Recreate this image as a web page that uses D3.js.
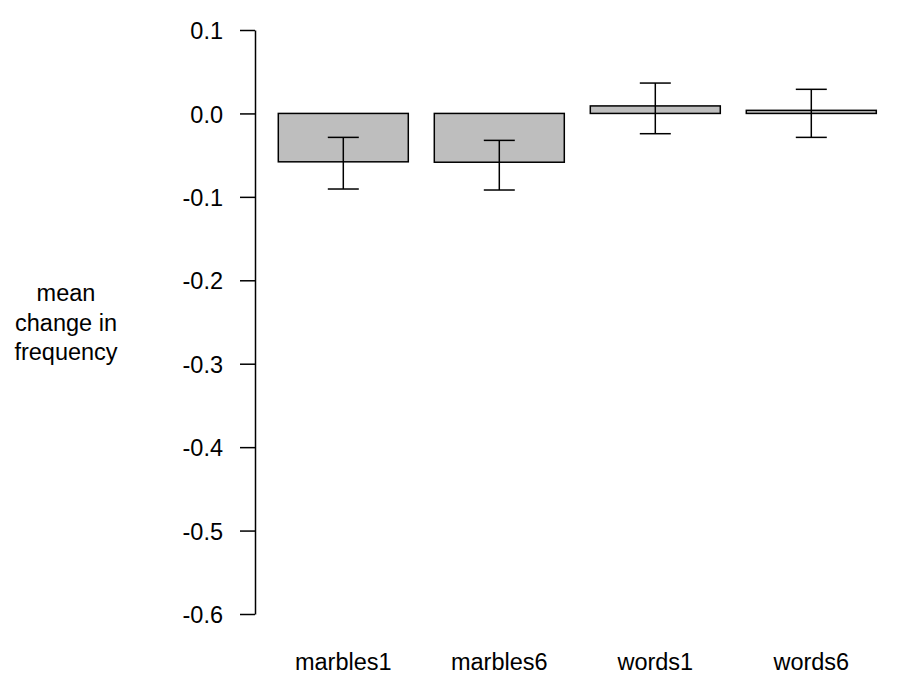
<!DOCTYPE html>
<html>
<head>
<meta charset="utf-8">
<script src="https://cdn.jsdelivr.net/npm/d3@7"></script>
<style>
  body { margin: 0; background: #fff; }
  text { font-family: "Liberation Sans", Arial, sans-serif; fill: #000; }
</style>
</head>
<body>
<svg id="chart"></svg>
<script>
// data
var groups = ["marbles1", "marbles6", "words1", "words6"];
var means = [-0.058, -0.0585, 0.009, 0.0037];
var errLow = [-0.0906, -0.0918, -0.0243, -0.0287];
var errHigh = [-0.0287, -0.0323, 0.0364, 0.0289];
var yTicks = [0.1, 0.0, -0.1, -0.2, -0.3, -0.4, -0.5, -0.6];
var yLabelLines = ["mean", "change in", "frequency"];

var width = 900, height = 675;
var fontSize = 23.5;

var svg = d3.select("#chart")
  .attr("width", width)
  .attr("height", height)

var yScale = d3.scaleLinear()
  .domain([-0.6, 0.1])
  .range([614, 30])

// barplot style: bar width 1, space 0.2
var xScale = d3.scaleBand()
  .domain(groups)
  .range([265.3, 889.3])
  .paddingInner(1/6)
  .paddingOuter(1/12)

var yAxis = d3.axisLeft(yScale)
  .tickValues(yTicks)
  .tickSize(15)
  .tickPadding(17)
  .tickSizeOuter(0)

var axisG = svg.append("g")
  .attr("transform", "translate(255,0)")
  .call(yAxis)

axisG.select(".domain")
  .attr("stroke", "#000")
  .attr("stroke-width", 1.5)
axisG.selectAll(".tick line")
  .attr("stroke", "#000")
  .attr("stroke-width", 1.5)
axisG.selectAll(".tick text")
  .attr("font-size", fontSize)
  .attr("font-family", "Liberation Sans, Arial, sans-serif")
  .attr("fill", "#000")
  .attr("dy", "0.37em")
  .text(function(d){ return d3.format(".1f")(d).replace("−", "-"); })

// bars
svg.selectAll("rect.bar")
  .data(groups)
  .enter()
  .append("rect")
  .attr("class", "bar")
  .attr("x", function(d){ return xScale(d); })
  .attr("width", xScale.bandwidth())
  .attr("y", function(d,i){ return yScale(Math.max(0, means[i])); })
  .attr("height", function(d,i){ return Math.abs(yScale(means[i]) - yScale(0)); })
  .attr("fill", "#bebebe")
  .attr("stroke", "#000")
  .attr("stroke-width", 1.5)

// error bars
var capHalf = 15.5;
var errG = svg.selectAll("g.err")
  .data(groups)
  .enter()
  .append("g")
  .attr("class", "err")
  .attr("stroke", "#000")
  .attr("stroke-width", 1.5)

errG.append("line")
  .attr("x1", function(d){ return xScale(d) + xScale.bandwidth()/2; })
  .attr("x2", function(d){ return xScale(d) + xScale.bandwidth()/2; })
  .attr("y1", function(d,i){ return yScale(errHigh[i]); })
  .attr("y2", function(d,i){ return yScale(errLow[i]); })

errG.append("line")
  .attr("x1", function(d){ return xScale(d) + xScale.bandwidth()/2 - capHalf; })
  .attr("x2", function(d){ return xScale(d) + xScale.bandwidth()/2 + capHalf; })
  .attr("y1", function(d,i){ return yScale(errHigh[i]); })
  .attr("y2", function(d,i){ return yScale(errHigh[i]); })

errG.append("line")
  .attr("x1", function(d){ return xScale(d) + xScale.bandwidth()/2 - capHalf; })
  .attr("x2", function(d){ return xScale(d) + xScale.bandwidth()/2 + capHalf; })
  .attr("y1", function(d,i){ return yScale(errLow[i]); })
  .attr("y2", function(d,i){ return yScale(errLow[i]); })

// category labels
svg.selectAll("text.cat")
  .data(groups)
  .enter()
  .append("text")
  .attr("class", "cat")
  .attr("x", function(d){ return xScale(d) + xScale.bandwidth()/2; })
  .attr("y", 670)
  .attr("text-anchor", "middle")
  .attr("font-size", fontSize)
  .text(function(d){ return d; })

// y label, horizontal, three lines
svg.append("text")
  .attr("text-anchor", "middle")
  .attr("font-size", fontSize)
  .selectAll("tspan")
  .data(yLabelLines)
  .enter()
  .append("tspan")
  .attr("x", 66)
  .attr("y", function(d,i){ return 301 + i*29.7; })
  .text(function(d){ return d; })
</script>
</body>
</html>
